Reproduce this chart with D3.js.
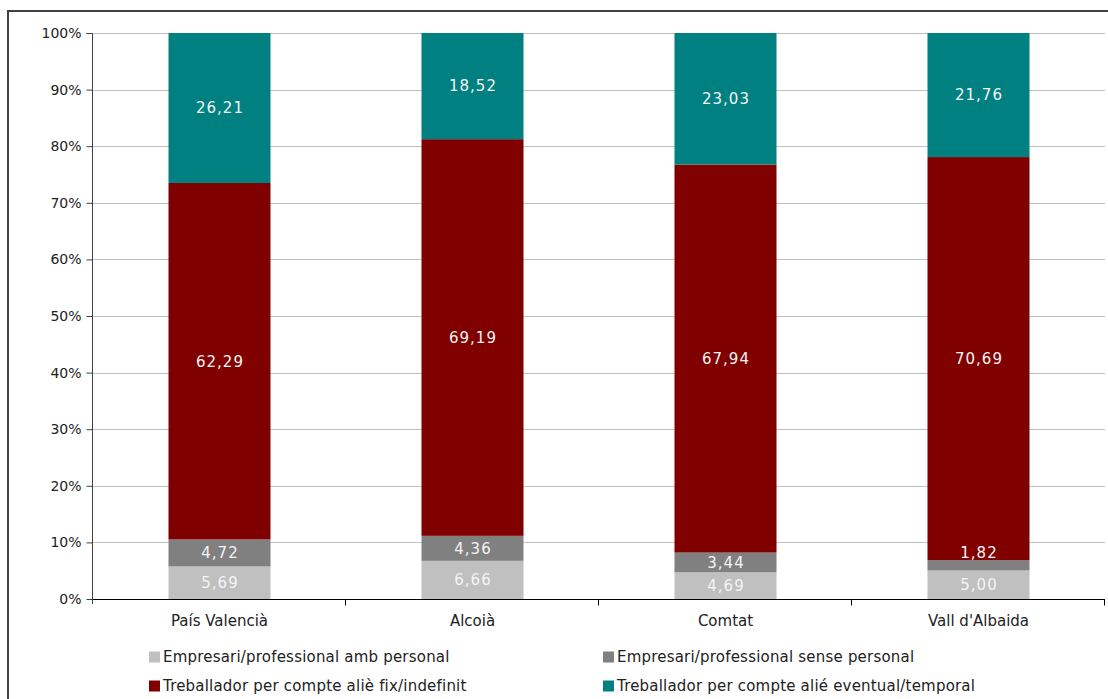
<!DOCTYPE html>
<html><head><meta charset="utf-8">
<script src="https://cdn.jsdelivr.net/npm/d3@7"></script>
<style>
body{margin:0;background:#fff;}
svg{display:block;font-family:"DejaVu Sans",Verdana,sans-serif;}
</style></head>
<body><svg id="c" width="1108" height="699"></svg>
<script>
const categories = ["País Valencià","Alcoià","Comtat","Vall d'Albaida"];
const seriesNames = ["Empresari/professional amb personal","Empresari/professional sense personal","Treballador per compte aliè fix/indefinit","Treballador per compte alié eventual/temporal"];
const seriesColors = ["#c0c0c0","#808080","#800000","#008080"];
const empAmb = [5.69, 6.66, 4.69, 5.00];
const empSense = [4.72, 4.36, 3.44, 1.82];
const fix = [62.29, 69.19, 67.94, 70.69];
const eventual = [26.21, 18.52, 23.03, 21.76];
const yTicks = [0,0.1,0.2,0.3,0.4,0.5,0.6,0.7,0.8,0.9,1];

const seriesValues = [empAmb, empSense, fix, eventual];
const keys = seriesNames;
const table = categories.map((c,i)=>{const o={cat:c}; keys.forEach((k,j)=>o[k]=seriesValues[j][i]); return o;});
const stack = d3.stack().keys(keys).offset(d3.stackOffsetExpand);
const layers = stack(table);

const svg = d3.select("#c");
const L=93, R=1105, T=33, B=599;
const x = d3.scaleBand().domain(categories).range([L,R]).paddingInner(0).paddingOuter(0);
const y = d3.scaleLinear().domain([0,1]).range([B,T]);
const bw = 102;

// outer border
svg.append("rect").attr("x",8).attr("y",11).attr("width",1110).attr("height",700)
  .attr("fill","none").attr("stroke","#404040").attr("stroke-width",2);

// gridlines
svg.append("g").selectAll("line").data(yTicks.slice(1)).join("line")
  .attr("x1",L).attr("x2",R).attr("y1",d=>Math.round(y(d))+0.5).attr("y2",d=>Math.round(y(d))+0.5)
  .attr("stroke","#c0c0c0").attr("stroke-width",1);

// bars
const g = svg.append("g");
layers.forEach((layer,j)=>{
  g.selectAll(null).data(layer).join("rect")
    .attr("x",d=>x(d.data.cat)+x.bandwidth()/2-bw/2)
    .attr("width",bw)
    .attr("y",d=>y(d[1]))
    .attr("height",d=>y(d[0])-y(d[1]))
    .attr("fill",seriesColors[j]);
});

// labels
const fmt = v=>d3.format(".2f")(v).replace(".",",");
layers.forEach((layer,j)=>{
  g.selectAll(null).data(layer).join("text")
    .attr("x",d=>x(d.data.cat)+x.bandwidth()/2+0.5)
    .attr("y",d=>{
      const top=y(d[1]), bot=y(d[0]);
      if (bot-top < 16) return top-8;
      return (top+bot)/2;
    })
    .attr("dy","0.36em")
    .attr("text-anchor","middle")
    .attr("fill","#f4f4f4")
    .attr("font-size","15px")
    .attr("letter-spacing","1px")
    .text(d=>fmt(d.data[keys[j]]));
});

// y axis
const yAxis = d3.axisLeft(y).tickValues(yTicks).tickFormat(d3.format(".0%")).tickSize(6).tickPadding(5);
const ya = svg.append("g").attr("transform",`translate(${L-0.5},0)`).call(yAxis);
ya.select(".domain").attr("stroke","#404040").attr("d",`M-6,${T}.5H0V${B+5}`);
ya.selectAll(".tick line").attr("stroke","#404040");
ya.selectAll("text").attr("font-size","14px").attr("fill","#222").attr("font-family","DejaVu Sans, sans-serif");

// x axis
const xAxis = d3.axisBottom(x).tickSize(0).tickPadding(16);
const xa = svg.append("g").attr("transform",`translate(0,${B+0.5})`).call(xAxis);
xa.select(".domain").attr("stroke","#000").attr("d",`M${L},0H${R}`);
xa.selectAll("text").attr("font-size","15px").attr("fill","#222").attr("font-family","DejaVu Sans, sans-serif");
// category boundary ticks
xa.append("g").selectAll("line").data(categories).join("line")
  .attr("x1",d=>Math.round(x(d)+x.bandwidth())-0.5).attr("x2",d=>Math.round(x(d)+x.bandwidth())-0.5)
  .attr("y1",0).attr("y2",6).attr("stroke","#000");

// legend
const legPos = [[149,657],[603,657],[149,686],[603,686]];
const lg = svg.append("g");
seriesNames.forEach((s,i)=>{
  const [lx,ly]=legPos[i];
  lg.append("rect").attr("x",lx).attr("y",ly-5.5).attr("width",11).attr("height",11).attr("fill",seriesColors[i]);
  lg.append("text").attr("x",lx+14).attr("y",ly).attr("dy","0.36em").attr("font-size","15px").attr("letter-spacing","0.2px").attr("fill","#222").text(s);
});
</script></body></html>
